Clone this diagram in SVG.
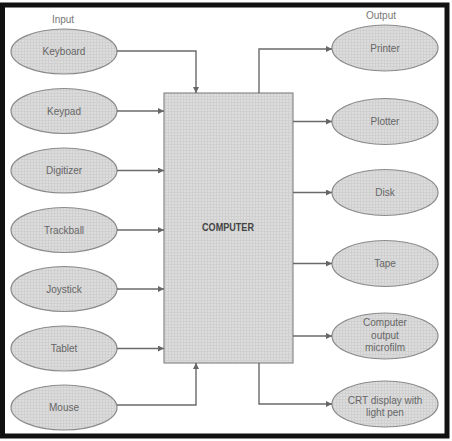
<svg xmlns="http://www.w3.org/2000/svg" width="452" height="441" viewBox="0 0 452 441">
<defs>
<pattern id="tex" width="3" height="3" patternUnits="userSpaceOnUse">
<rect width="3" height="3" fill="#dcdcdc"/>
<path d="M0 0.5H3M0.5 0V3" stroke="#d0d0d0" stroke-width="1"/>
</pattern>
<marker id="ah" viewBox="0 0 10 10" refX="10" refY="5" markerWidth="9" markerHeight="6" markerUnits="userSpaceOnUse" orient="auto">
<path d="M0 0L10 5L0 10Z" fill="#666"/>
</marker>
</defs>
<style>
.n ellipse{fill:url(#tex);stroke:#8a8a8a;stroke-width:1.2}
.n text{font-family:"Liberation Sans",Arial,sans-serif;font-size:10px;fill:#666;text-anchor:middle}
.lbl{font-family:"Liberation Sans",Arial,sans-serif;font-size:10px;fill:#777;text-anchor:middle}
#connectors path{fill:none;stroke:#6a6a6a;stroke-width:1.4;marker-end:url(#ah)}
</style>
<rect x="0" y="0" width="452" height="441" fill="#fff"/>
<rect x="2.5" y="5" width="444.5" height="431" fill="#fff" stroke="#111" stroke-width="5"/>
<text class="lbl" x="63" y="23">Input</text>
<text class="lbl" x="381" y="19">Output</text>
<g id="computer">
<rect x="164" y="93" width="129" height="270" fill="url(#tex)" stroke="#8a8a8a" stroke-width="1.2"/>
<text x="228" y="231" font-family="Liberation Sans,Arial,sans-serif" font-size="10.5" font-weight="bold" fill="#444" text-anchor="middle" textLength="52" lengthAdjust="spacingAndGlyphs">COMPUTER</text>
</g>
<g id="keyboard" class="n"><ellipse cx="64" cy="51.5" rx="53" ry="22.5"/><text x="64" y="55">Keyboard</text></g>
<g id="keypad" class="n"><ellipse cx="64" cy="111" rx="53" ry="22.5"/><text x="64" y="114.5">Keypad</text></g>
<g id="digitizer" class="n"><ellipse cx="64" cy="170.5" rx="53" ry="22.5"/><text x="64" y="174">Digitizer</text></g>
<g id="trackball" class="n"><ellipse cx="64" cy="230" rx="53" ry="22.5"/><text x="64" y="233.5">Trackball</text></g>
<g id="joystick" class="n"><ellipse cx="64" cy="289" rx="53" ry="22.5"/><text x="64" y="292.5">Joystick</text></g>
<g id="tablet" class="n"><ellipse cx="64" cy="348.5" rx="53" ry="22.5"/><text x="64" y="352">Tablet</text></g>
<g id="mouse" class="n"><ellipse cx="64" cy="407.5" rx="53" ry="22.5"/><text x="64" y="411">Mouse</text></g>
<g id="printer" class="n"><ellipse cx="385" cy="48" rx="53" ry="23"/><text x="385" y="51.5">Printer</text></g>
<g id="plotter" class="n"><ellipse cx="385" cy="121.5" rx="53" ry="23"/><text x="385" y="125">Plotter</text></g>
<g id="disk" class="n"><ellipse cx="385" cy="192.5" rx="53" ry="23"/><text x="385" y="196">Disk</text></g>
<g id="tape" class="n"><ellipse cx="385" cy="263.5" rx="53" ry="23"/><text x="385" y="267">Tape</text></g>
<g id="com" class="n"><ellipse cx="385" cy="336" rx="53" ry="23"/><text x="385" y="325.5">Computer</text><text x="385" y="338.5">output</text><text x="385" y="351">microfilm</text></g>
<g id="crt" class="n"><ellipse cx="385" cy="404" rx="53" ry="23"/><text x="385" y="403.5">CRT display with</text><text x="385" y="415.5">light pen</text></g>
<g id="connectors">
<path d="M117 51H196V93"/>
<path d="M117 111H164"/>
<path d="M117 170.5H164"/>
<path d="M117 230H164"/>
<path d="M117 289H164"/>
<path d="M117 348.5H164"/>
<path d="M117 405H196V363"/>
<path d="M259 93V49H332"/>
<path d="M293 121.5H332"/>
<path d="M293 192.5H332"/>
<path d="M293 263.5H332"/>
<path d="M293 336H332"/>
<path d="M259 363V404H332"/>
</g>
</svg>
